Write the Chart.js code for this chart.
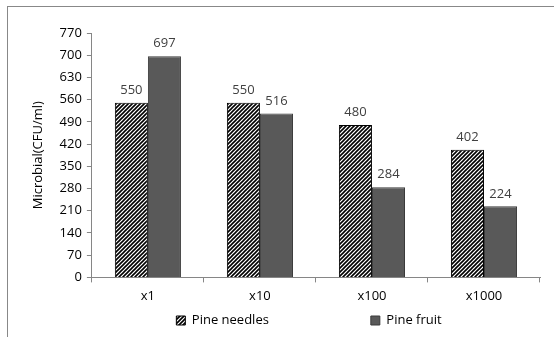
<!DOCTYPE html>
<html><head><meta charset="utf-8">
<script src="https://cdn.jsdelivr.net/npm/chart.js@4.4.1/dist/chart.umd.min.js"></script>
<style>
html,body{margin:0;padding:0;background:#fff;}
#wrap{position:relative;width:554px;height:337px;}
#frame{position:absolute;left:7px;top:6px;right:0;bottom:0;border-top:1px solid #888;border-left:1px solid #888;}
canvas{position:absolute;left:0;top:0;}
</style></head>
<body><div id="wrap"><div id="frame"></div><canvas id="c" width="554" height="337"></canvas></div>
<script>
const categories = ['x1', 'x10', 'x100', 'x1000'];
const pineNeedles = [550, 550, 480, 402];
const pineFruit = [697, 516, 284, 224];
const yTicks = [0, 70, 140, 210, 280, 350, 420, 490, 560, 630, 700, 770];
const seriesNames = ['Pine needles', 'Pine fruit'];

function hatch() {
  const t = document.createElement('canvas');
  t.width = 4; t.height = 4;
  const g = t.getContext('2d');
  g.fillStyle = '#fff'; g.fillRect(0, 0, 4, 4);
  g.strokeStyle = '#000'; g.lineWidth = 1.6;
  g.beginPath();
  g.moveTo(-1, 5); g.lineTo(5, -1);
  g.moveTo(-1, 1); g.lineTo(1, -1);
  g.moveTo(3, 5); g.lineTo(5, 3);
  g.stroke();
  return g.createPattern(t, 'repeat');
}
const ctx = document.getElementById('c').getContext('2d');
const hatchPat = hatch();
const FONT = 'Open Sans';

const valueLabels = {
  id: 'valueLabels',
  afterDatasetsDraw(chart) {
    const c = chart.ctx;
    c.save();
    c.font = '13px "' + FONT + '"';
    c.fillStyle = '#404040';
    c.textAlign = 'center';
    c.textBaseline = 'bottom';
    chart.data.datasets.forEach((ds, i) => {
      chart.getDatasetMeta(i).data.forEach((bar, j) => {
        c.fillText(String(ds.data[j]), bar.x, bar.y - 6);
      });
    });
    c.restore();
  }
};
const legendShift = {
  id: 'legendShift',
  afterLayout(chart) { if (chart.legend) chart.legend.left += 52; }
};

new Chart(ctx, {
  type: 'bar',
  data: {
    labels: categories,
    datasets: [
      { label: seriesNames[0], data: pineNeedles, backgroundColor: hatchPat, borderColor: '#000', borderWidth: 1 },
      { label: seriesNames[1], data: pineFruit, backgroundColor: '#595959', borderColor: '#3a3a3a', borderWidth: 1 }
    ]
  },
  options: {
    responsive: false,
    animation: false,
    devicePixelRatio: 1,
    layout: { padding: { left: 26, right: 14, top: 33, bottom: 0 } },
    datasets: { bar: { categoryPercentage: 0.59, barPercentage: 1 } },
    plugins: {
      tooltip: { enabled: false },
      legend: {
        position: 'bottom',
        labels: {
          font: { family: FONT, size: 13 },
          color: '#000',
          boxWidth: 9, boxHeight: 9,
          padding: 4,
          generateLabels(chart) {
            return chart.data.datasets.map((ds, i) => ({
              text: ds.label + (i === 0 ? '\u00a0'.repeat(29) : ''),
              fillStyle: ds.backgroundColor,
              strokeStyle: ds.borderColor,
              lineWidth: 1,
              datasetIndex: i
            }));
          }
        }
      }
    },
    scales: {
      x: {
        grid: { drawOnChartArea: false, color: '#868686', tickLength: 5, offset: true },
        border: { color: '#868686' },
        ticks: { font: { family: FONT, size: 13 }, color: '#000', padding: 6 }
      },
      y: {
        min: 0, max: 770,
        afterBuildTicks(axis) { axis.ticks = yTicks.map(v => ({ value: v })); },
        grid: { drawOnChartArea: false, color: '#868686', tickLength: 5 },
        border: { color: '#868686' },
        ticks: { font: { family: FONT, size: 13 }, color: '#000', padding: 5 },
        title: { display: true, text: 'Microbial(CFU/ml)', font: { family: FONT, size: 13 }, color: '#000', padding: { top: 4, bottom: 9 } }
      }
    }
  },
  plugins: [valueLabels, legendShift]
});
</script>
</body></html>
